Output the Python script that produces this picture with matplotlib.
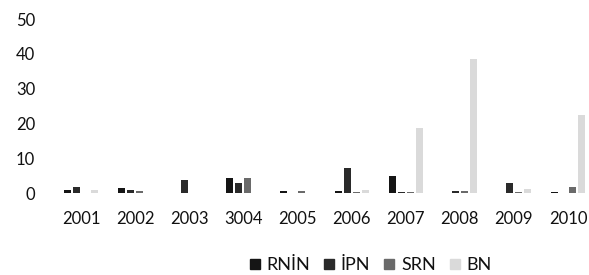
import numpy as np
import matplotlib
matplotlib.use('Agg')
import matplotlib.pyplot as plt
from matplotlib.lines import Line2D

plt.rcParams['font.family'] = ['Lato', 'DejaVu Sans']

# values
years = ['2001', '2002', '2003', '3004', '2005', '2006', '2007', '2008', '2009', '2010']
rnin = [1.0, 1.5, 0, 4.2, 0.5, 0.6, 5.0, 0, 0, 0.4]
ipn = [1.6, 0.8, 3.8, 2.8, 0, 7.1, 0.4, 0.5, 3.0, 0]
srn = [0, 0.7, 0, 4.2, 0.5, 0.3, 0.4, 0.5, 0.4, 1.8]
bn = [1.0, 0, 0, 0, 0, 0.8, 18.7, 38.4, 1.2, 22.5]

names = ['RNİN', 'İPN', 'SRN', 'BN']
colors = ['#151515', '#2a2a2a', '#6a6a6a', '#dadada']
series = [rnin, ipn, srn, bn]

fig = plt.figure(figsize=(5.89, 2.75), dpi=100)
ax = fig.add_axes([54 / 589, 82 / 275, 541 / 589, 174 / 275])

x = np.arange(len(years))
pitch = 0.166
width = 0.13
for k, (vals, col) in enumerate(zip(series, colors)):
    ax.bar(x + (k - 1.5) * pitch, vals, width, color=col, linewidth=0)

ax.set_xlim(-0.5, len(years) - 0.5)
ax.set_ylim(0, 50)
ax.set_yticks([0, 10, 20, 30, 40, 50])
ax.set_xticks(x)
ax.set_xticklabels(years)
ax.tick_params(axis='y', length=0, pad=13.5, labelsize=12, colors='#111111')
ax.tick_params(axis='x', length=0, pad=13, labelsize=12, colors='#111111')
for s in ax.spines.values():
    s.set_visible(False)

handles = [Line2D([], [], marker='s', linestyle='none', markersize=7.5,
                  markerfacecolor=c, markeredgecolor=c) for c in colors]
fig.legend(handles, names, loc='center', bbox_to_anchor=(370 / 589, 1 - 265 / 275),
           ncol=4, frameon=False, fontsize=13, handlelength=0.7,
           handletextpad=0.3, columnspacing=0.7, labelcolor='#111111')

fig.savefig('out.png', dpi=100)
